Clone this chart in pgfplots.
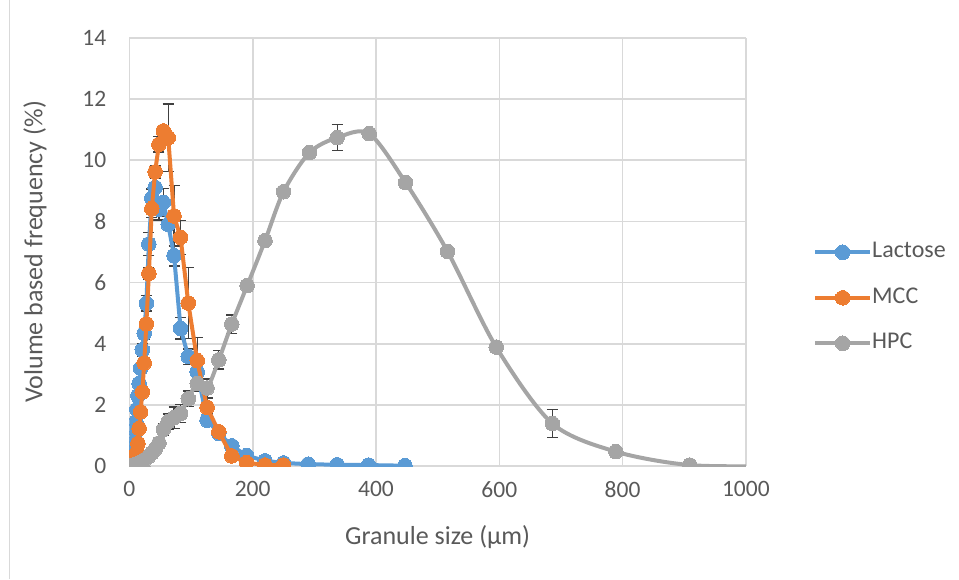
\documentclass[border=0pt]{standalone}
\usepackage{fontspec}
\setmainfont{Carlito}
\usepackage{pgfplots}
\pgfplotsset{compat=1.18}
\definecolor{cLac}{HTML}{5B9BD5}
\definecolor{cMCC}{HTML}{ED7D31}
\definecolor{cHPC}{HTML}{A5A5A5}
\definecolor{cGrid}{HTML}{D9D9D9}
\definecolor{cText}{HTML}{595959}
\definecolor{cErr}{HTML}{404040}
\pgfplotsset{
  mylegimg/.style={legend image code/.code={
    \draw[#1, mark repeat=2, mark phase=2] plot coordinates {(0pt,0pt) (27.5pt,0pt) (55pt,0pt)};
  }}
}
\begin{document}
\begin{tikzpicture}
\path[use as bounding box] (0pt,0pt) rectangle (959pt,579pt);
\draw[cGrid, line width=1.5pt] (9.3pt,0pt) -- (9.3pt,579pt);
\begin{axis}[
  at={(129.4pt,113pt)}, anchor=south west,
  scale only axis, width=616.5pt, height=428pt,
  xmin=0, xmax=1000, ymin=0, ymax=14,
  xtick={0,200,...,1000}, ytick={0,2,...,14},
  grid=major, major grid style={draw=cGrid, line width=1.6pt},
  axis line style={draw=none},
  major tick length=0pt,
  clip marker paths=true,
  /pgf/number format/assume math mode=true,
  /pgf/number format/1000 sep={},
  ticklabel style={font=\fontsize{23.5}{28}\selectfont, text=cText},
  yticklabel style={anchor=east, inner sep=0pt, xshift=-23pt},
  xticklabel style={anchor=north, inner sep=0pt, yshift=-15pt},
  label style={font=\fontsize{26}{31}\selectfont, text=cText},
  xlabel={Granule size (µm)},
  ylabel={Volume based frequency (\%)},
  xlabel style={at={(axis description cs:0.5,-0.166)}, anchor=center},
  ylabel style={at={(axis description cs:-0.153,0.5)}, anchor=center},
  legend style={draw=none, fill=none, at={(axis description cs:1.104,0.393)}, anchor=west,
    font=\fontsize{24}{29}\selectfont, text=cText, row sep=24.5pt,
    nodes={inner sep=0pt, text height=16pt, text depth=5pt}},
  legend cell align=left,
  /tikz/every even column/.append style={column sep=6pt},
  mylegimg,
  every axis plot/.append style={line width=4pt, mark=*, mark size=7.3pt},
]
% error bars (drawn first, behind markers)
\addplot[draw=none, mark=none, forget plot, error bars/.cd, y dir=both, y explicit,
  error bar style={draw=cErr, line width=1.3pt},
  error mark options={rotate=90, mark size=5.5pt, draw=cErr, line width=1.3pt}]
  coordinates {
  (18.2,3.2)+-(0,0.15) (20.9,3.8)+-(0,0.2) (24,4.34)+-(0,0.2) (27.5,5.32)+-(0,0.25)
  (31.6,7.26)+-(0,0.37) (36.3,8.76)+-(0,0.3) (41.7,9.11)+-(0,0.3) (47.9,8.4)+-(0,0.35)
  (55,8.62)+-(0,0.45) (72.4,6.88)+-(0,0.34) (83,4.5)+-(0,0.35) (95.5,3.58)+-(0,0.25)
  (110,3.08)+-(0,0.45) (126,1.5)+-(0,0.2) (145,1.07)+-(0,0.1)
  };
\addplot[draw=none, mark=none, forget plot, error bars/.cd, y dir=both, y explicit,
  error bar style={draw=cErr, line width=1.3pt},
  error mark options={rotate=90, mark size=5.5pt, draw=cErr, line width=1.3pt}]
  coordinates {
  (31.6,6.3)+-(0,0.2) (36.3,8.42)+-(0,0.3) (41.7,9.62)+-(0,0.2) (47.9,10.52)+-(0,0.25)
  (63,10.74)+-(0,1.1) (72.4,8.18)+-(0,1.0) (83,7.48)+-(0,0.56) (95.5,5.33)+-(0,1.17)
  (110,3.45)+-(0,0.75) (126,1.92)+-(0,0.3)
  };
\addplot[draw=none, mark=none, forget plot, error bars/.cd, y dir=both, y explicit,
  error bar style={draw=cErr, line width=1.3pt},
  error mark options={rotate=90, mark size=5.5pt, draw=cErr, line width=1.3pt}]
  coordinates {
  (55,1.2)+-(0,0.2) (63,1.45)+-(0,0.25) (72.4,1.58)+-(0,0.35) (83,1.72)+-(0,0.3)
  (95.5,2.2)+-(0,0.25) (110,2.7)+-(0,0.25) (126,2.55)+-(0,0.3) (145,3.47)+-(0,0.3)
  (166,4.64)+-(0,0.3) (337,10.74)+-(0,0.42) (516,7.02)+-(0,0.12) (686,1.39)+-(0,0.45)
  };
% Lactose
\addplot[color=cLac, mark options={fill=cLac, draw=cLac, line width=0pt}] coordinates {
  (0.5,0.02) (1,0.05) (2,0.1) (3,0.2) (4,0.3) (5.2,0.45) (6,0.6) (6.9,0.75) (7.9,0.95)
  (9.1,1.2) (10.4,1.45) (12,1.85) (13.8,2.3) (15.8,2.7) (18.2,3.2) (20.9,3.8) (24,4.34)
  (27.5,5.32) (31.6,7.26) (36.3,8.76) (41.7,9.11) (47.9,8.4) (55,8.62) (63,7.9) (72.4,6.88)
  (83,4.5) (95.5,3.58) (110,3.08) (126,1.5) (145,1.07) (166,0.66) (190,0.34) (220,0.17)
  (250,0.1) (290,0.06) (337,0.04) (388,0.03) (447,0.01)
};
\addlegendentry{Lactose}
% MCC
\addplot[color=cMCC, mark options={fill=cMCC, draw=cMCC, line width=0pt}] coordinates {
  (6,0.02) (6.9,0.05) (7.9,0.1) (9.1,0.2) (10.4,0.3) (12,0.45) (13.8,0.74) (15.8,1.23)
  (18.2,1.77) (20.9,2.42) (24,3.37) (27.5,4.65) (31.6,6.3) (36.3,8.42) (41.7,9.62)
  (47.9,10.52) (55,10.96) (63,10.74) (72.4,8.18) (83,7.48) (95.5,5.33) (110,3.45)
  (126,1.92) (145,1.12) (166,0.33) (190,0.11) (220,0.03) (250,0.03)
};
\addlegendentry{MCC}
% HPC
\addplot[color=cHPC, smooth, tension=0.5, mark options={fill=cHPC, draw=cHPC, line width=0pt}] coordinates {
  (2,0.0) (4,0.01) (6,0.02) (7.9,0.03) (10.4,0.05) (13.8,0.08) (18.2,0.12) (24,0.2)
  (31.6,0.32) (36.3,0.42) (41.7,0.55) (47.9,0.75) (55,1.2) (63,1.45) (72.4,1.58)
  (83,1.72) (95.5,2.2) (110,2.7) (126,2.55) (145,3.47) (166,4.64) (191,5.9) (220,7.37)
  (250,8.97) (292,10.25) (337,10.74) (389,10.87) (448,9.27) (516,7.02) (595,3.89)
  (686,1.39) (789,0.47) (909,0.03) (1047,0.0)
};
\addlegendentry{HPC}
\end{axis}
\end{tikzpicture}
\end{document}
